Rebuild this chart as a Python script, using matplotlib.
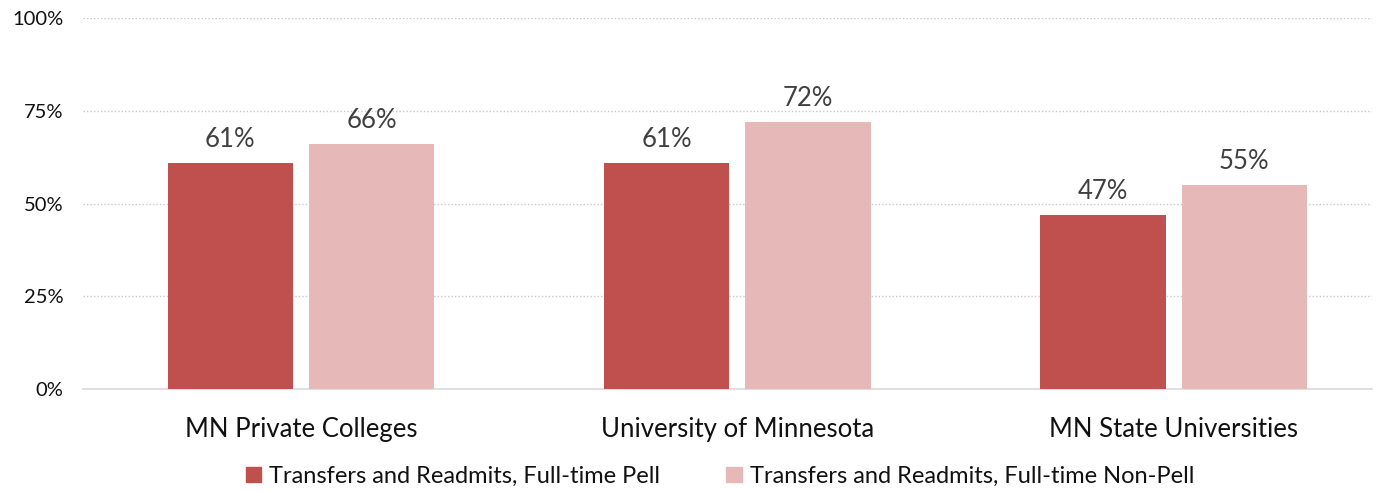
import numpy as np
import matplotlib.pyplot as plt
from matplotlib.ticker import PercentFormatter
from matplotlib.patches import Patch

plt.rcParams['font.family'] = ['Lato', 'DejaVu Sans']

categories = ['MN Private Colleges', 'University of Minnesota', 'MN State Universities']
series_names = ['Transfers and Readmits, Full-time Pell',
                'Transfers and Readmits, Full-time Non-Pell']
pell = [61, 61, 47]
non_pell = [66, 72, 55]
colors = ['#C0504D', '#E6B8B7']

fig = plt.figure(figsize=(13.78, 4.91), dpi=100)
ax = fig.add_axes([0.0602, 0.2077, 0.9356, 0.7556])

x = np.arange(len(categories))
w = 0.287
off = 0.162
for vals, dx, c in [(pell, -off, colors[0]), (non_pell, off, colors[1])]:
    bars = ax.bar(x + dx, vals, width=w, color=c, zorder=3)
    for b, v in zip(bars, vals):
        ax.text(b.get_x() + b.get_width() / 2, v + 3, f'{v}%',
                ha='center', va='bottom', fontsize=18.5, color='#404040')

ax.set_xlim(-0.5, 2.455)
ax.set_ylim(0, 100)
ax.set_yticks([0, 25, 50, 75, 100])
ax.yaxis.set_major_formatter(PercentFormatter(decimals=0))
ax.set_xticks(x)
ax.set_xticklabels(categories, fontsize=18.5, color='#111111')
ax.tick_params(axis='x', length=0, pad=20)
ax.tick_params(axis='y', length=0, labelsize=14.5, colors='#111111', pad=14)

for y in [25, 50, 75, 100]:
    ax.axhline(y, color='#C8C8C8', lw=1, ls=(0, (1, 1.5)), zorder=1)
for s in ['top', 'right', 'left']:
    ax.spines[s].set_visible(False)
ax.spines['bottom'].set_color('#D9D9D9')
ax.spines['bottom'].set_linewidth(1.2)

handles = [Patch(color=c) for c in colors]
fig.legend(handles, series_names, loc='center', bbox_to_anchor=(0.5225, 0.03),
           ncol=2, frameon=False, fontsize=17, handlelength=0.65, handleheight=0.65,
           handletextpad=0.35, columnspacing=2.8, labelcolor='#111111')

fig.savefig('out.png', dpi=100)
